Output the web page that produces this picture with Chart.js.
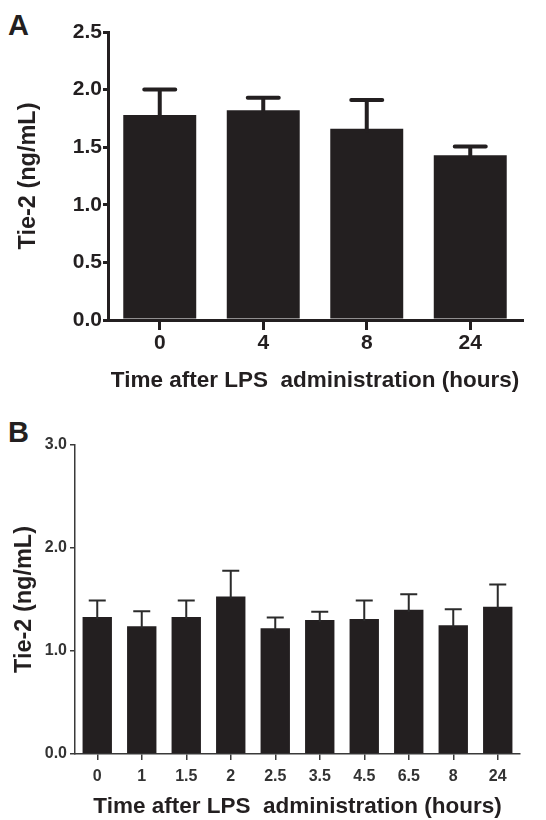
<!DOCTYPE html>
<html>
<head>
<meta charset="utf-8">
<script src="https://cdn.jsdelivr.net/npm/chart.js@4"></script>
<style>
  html, body { margin: 0; padding: 0; background: #fff; }
  body { width: 546px; height: 820px; position: relative; overflow: hidden; }
  canvas { position: absolute; left: 0; }
  .lbl { position: absolute; font: bold 29px "Liberation Sans", Arial, sans-serif; line-height: 29px; color: #231f20; }
</style>
</head>
<body>
<div class="lbl" style="left:8px;top:10.5px;">A</div>
<div class="lbl" style="left:8px;top:417.5px;">B</div>
<canvas id="chartA" width="546" height="400" style="top:0px"></canvas>
<canvas id="chartB" width="546" height="420" style="top:400px"></canvas>
<script>
// ---- Data ----
const categoriesA = ['0', '4', '8', '24'];
const valuesA = [1.78, 1.82, 1.66, 1.43];
const errorsA = [0.22, 0.11, 0.25, 0.075];
const yTicksA = [0, 0.5, 1.0, 1.5, 2.0, 2.5];

const categoriesB = ['0', '1', '1.5', '2', '2.5', '3.5', '4.5', '6.5', '8', '24'];
const valuesB = [1.33, 1.24, 1.33, 1.53, 1.22, 1.30, 1.31, 1.40, 1.25, 1.43];
const errorsB = [0.16, 0.145, 0.16, 0.25, 0.105, 0.08, 0.18, 0.15, 0.155, 0.215];
const yTicksB = [0, 1.0, 2.0, 3.0];

const xTitle = 'Time after LPS  administration (hours)';
const yTitle = 'Tie-2 (ng/mL)';
const FONT = '"Liberation Sans", Arial, sans-serif';

const errorBarPlugin = {
  id: 'errorBars',
  afterDatasetsDraw(chart, args, opts) {
    const ctx = chart.ctx;
    const yScale = chart.scales.y;
    const meta = chart.getDatasetMeta(0);
    const errs = opts.errors;
    const vals = chart.data.datasets[0].data;
    ctx.save();
    ctx.strokeStyle = opts.color;
    ctx.lineWidth = opts.lineWidth;
    ctx.lineCap = opts.lineCap;
    meta.data.forEach((bar, i) => {
      const yTop = yScale.getPixelForValue(vals[i] + errs[i]);
      const yBar = bar.y;
      ctx.beginPath();
      ctx.moveTo(bar.x, yBar + 2);
      ctx.lineTo(bar.x, yTop);
      ctx.moveTo(bar.x - opts.capHalf, yTop);
      ctx.lineTo(bar.x + opts.capHalf, yTop);
      ctx.stroke();
    });
    ctx.restore();
  }
};

function makeChart(id, cfg) {
  return new Chart(document.getElementById(id), {
    type: 'bar',
    data: {
      labels: cfg.categories,
      datasets: [{
        data: cfg.values,
        backgroundColor: '#231f20',
        borderWidth: 0,
        categoryPercentage: 1.0,
        barPercentage: cfg.barPct
      }]
    },
    plugins: [errorBarPlugin],
    options: {
      responsive: false,
      animation: false,
      events: [],
      layout: { padding: cfg.padding },
      plugins: {
        legend: { display: false },
        tooltip: { enabled: false },
        errorBars: cfg.err
      },
      scales: {
        x: {
          offset: true,
          afterFit: s => { s.height = cfg.xHeight; },
          grid: { display: true, drawOnChartArea: false, drawTicks: true, tickLength: cfg.xTickLen, lineWidth: cfg.axisWidth, color: cfg.axisColor, offset: false },
          border: { display: true, width: cfg.axisWidth, color: cfg.axisColor },
          ticks: { color: cfg.tickColor, font: { family: FONT, weight: 'bold', size: cfg.tickSize }, padding: cfg.xTickPad, maxRotation: 0, autoSkip: false },
          title: { display: true, text: xTitle, color: '#231f20', font: { family: FONT, weight: 'bold', size: 22.5 }, padding: { top: 0, bottom: cfg.xTitlePad } }
        },
        y: {
          min: 0,
          max: cfg.yTicks[cfg.yTicks.length - 1],
          afterFit: s => { s.width = cfg.yWidth; },
          afterBuildTicks: s => { s.ticks = cfg.yTicks.map(v => ({ value: v })); },
          grid: { display: true, drawOnChartArea: false, drawTicks: true, tickLength: 5, lineWidth: cfg.axisWidth, color: cfg.axisColor },
          border: { display: true, width: cfg.axisWidth, color: cfg.axisColor },
          ticks: { color: cfg.tickColor, font: { family: FONT, weight: 'bold', size: cfg.tickSize }, padding: cfg.yTickPad, callback: v => Number(v).toFixed(1) },
          title: { display: true, text: yTitle, color: '#231f20', font: { family: FONT, weight: 'bold', size: 23.5 }, padding: { top: cfg.yTitlePad, bottom: 0 } }
        }
      }
    }
  });
}

makeChart('chartA', {
  categories: categoriesA, values: valuesA, yTicks: yTicksA, barPct: 0.705,
  padding: { left: 0, top: 32, right: 24, bottom: 0 },
  xHeight: 80, yWidth: 108, xTickLen: 10, axisWidth: 3, axisColor: '#231f20', tickColor: '#231f20',
  tickSize: 21, xTickPad: 1, yTickPad: 1, xTitlePad: 6, yTitlePad: 14,
  err: { errors: errorsA, color: '#231f20', lineWidth: 4, lineCap: 'round', capHalf: 15.5 }
});

makeChart('chartB', {
  categories: categoriesB, values: valuesB, yTicks: yTicksB, barPct: 0.66,
  padding: { left: 0, top: 45, right: 26, bottom: 0 },
  xHeight: 66, yWidth: 75, xTickLen: 6, axisWidth: 1.5, axisColor: '#3a3a3a', tickColor: '#333333',
  tickSize: 16, xTickPad: 7, yTickPad: 3, xTitlePad: 0, yTitlePad: 10,
  err: { errors: errorsB, color: '#2b2b2b', lineWidth: 2, lineCap: 'butt', capHalf: 8.5 }
});
</script>
</body>
</html>
